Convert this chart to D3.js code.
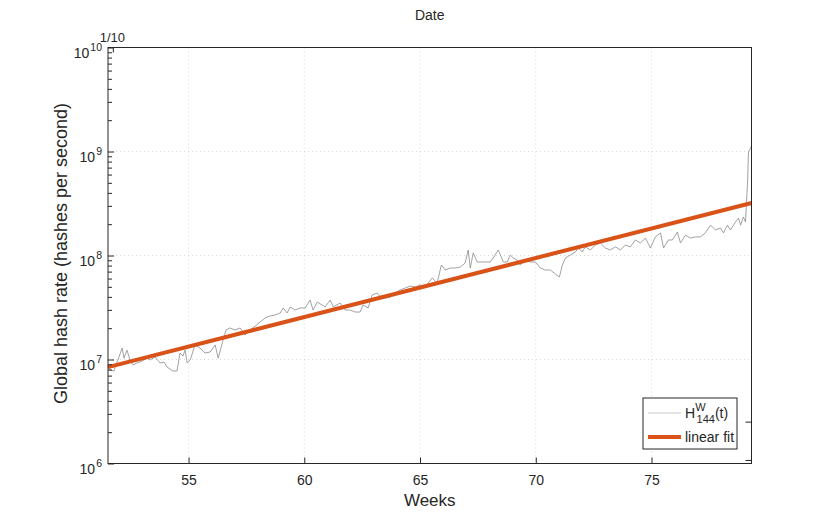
<!DOCTYPE html>
<html>
<head>
<meta charset="utf-8">
<script src="https://cdn.jsdelivr.net/npm/d3@7"></script>
<style>
  html, body { margin: 0; padding: 0; background: #fff; }
  svg { display: block; font-family: "Liberation Sans", Arial, Helvetica, sans-serif; }
</style>
</head>
<body>
<svg id="chart" width="830" height="519"></svg>
<script>
// ---------------- data ----------------
const weeks = [51.52,51.61,51.78,51.91,51.95,52.13,52.21,52.34,52.47,52.60,52.77,52.99,53.21,53.34,53.55,53.77,53.94,54.07,54.20,54.33,54.50,54.63,54.76,54.85,54.94,55.07,55.28,55.50,55.71,55.93,56.15,56.28,56.49,56.62,56.79,57.01,57.23,57.44,57.66,57.88,58.09,58.31,58.52,58.74,58.96,59.09,59.26,59.39,59.60,59.82,60.04,60.25,60.38,60.56,60.77,60.90,61.12,61.25,61.55,61.77,61.98,62.20,62.41,62.54,62.76,62.93,63.15,63.28,63.50,63.71,63.93,64.14,64.36,64.58,64.79,65.01,65.23,65.35,65.53,65.74,65.92,66.09,66.31,66.52,66.74,66.95,67.08,67.17,67.30,67.47,67.73,68.03,68.16,68.38,68.60,68.77,68.90,69.03,69.20,69.33,69.55,69.76,69.98,70.20,70.41,70.63,70.85,71.02,71.15,71.28,71.49,71.71,71.84,72.01,72.14,72.36,72.57,72.79,73.01,73.22,73.44,73.66,73.87,74.09,74.30,74.52,74.74,74.95,75.17,75.39,75.52,75.73,75.90,76.12,76.25,76.47,76.68,76.90,77.11,77.33,77.55,77.76,77.98,78.11,78.28,78.41,78.63,78.76,78.85,78.97,79.06,79.15,79.19,79.28,79.32];
const hashRate = [8.66e6,7.93e6,7.75e6,9.46e6,9.89e6,1.29e7,1.03e7,1.23e7,9.89e6,8.85e6,9.25e6,9.67e6,1.03e7,9.89e6,1.06e7,9.25e6,9.46e6,8.47e6,8.10e6,7.75e6,7.75e6,1.155e7,1.08e7,1.23e7,9.25e6,9.89e6,1.38e7,1.29e7,1.155e7,1.18e7,1.38e7,1.03e7,1.54e7,1.92e7,2.01e7,1.92e7,2.01e7,1.72e7,1.92e7,2.10e7,2.29e7,2.51e7,2.62e7,2.68e7,2.80e7,3.13e7,2.80e7,3.20e7,2.99e7,3.13e7,3.13e7,3.73e7,2.99e7,3.57e7,3.34e7,3.20e7,3.73e7,3.20e7,3.49e7,2.99e7,2.99e7,2.86e7,2.86e7,3.34e7,3.13e7,4.17e7,4.36e7,3.99e7,3.90e7,3.99e7,4.36e7,4.66e7,4.87e7,5.09e7,4.98e7,5.20e7,4.87e7,5.44e7,6.08e7,5.44e7,8.10e7,7.25e7,7.58e7,7.58e7,7.75e7,8.47e7,1.13e8,7.58e7,1.06e8,8.66e7,8.66e7,8.66e7,9.46e7,1.13e8,8.66e7,8.66e7,1.01e8,9.46e7,9.05e7,8.10e7,9.05e7,8.66e7,8.66e7,7.58e7,7.25e7,7.25e7,6.64e7,6.21e7,8.10e7,9.46e7,1.01e8,1.08e8,1.18e8,1.08e8,1.21e8,1.13e8,1.26e8,1.32e8,1.18e8,1.13e8,1.21e8,1.13e8,1.26e8,1.21e8,1.41e8,1.32e8,1.47e8,1.18e8,1.51e8,1.65e8,1.18e8,1.41e8,1.41e8,1.68e8,1.32e8,1.57e8,1.47e8,1.51e8,1.51e8,1.65e8,1.96e8,1.76e8,1.84e8,1.65e8,1.96e8,1.76e8,2.10e8,2.29e8,1.96e8,2.35e8,2.10e8,5.09e8,9.89e8,1.08e9,1.13e9];

// linear fit of log10(hash rate) against weeks
const fitIntercept = 4.0;
const fitSlope = 0.0568;

const xDomain = [51.52, 79.32];
const yDomain = [1e6, 1e10];
const xTicks = [55, 60, 65, 70, 75];
const yTicks = [1e6, 1e7, 1e8, 1e9, 1e10];
const dateTickWeek = 51.75;
const dateTickLabel = "1/10";
const rightAxisTicks = [2.5e6, 1.07e6];

// ---------------- layout ----------------
const M = { left: 108, right: 751.5, top: 47.5, bottom: 463.5 };
const svg = d3.select("#chart");
const x = d3.scaleLinear().domain(xDomain).range([M.left, M.right]);
const y = d3.scaleLog().domain(yDomain).range([M.bottom, M.top]);
const ink = "#262626";

// grid
const grid = svg.append("g");
grid.selectAll("line.gx").data(xTicks).join("line")
  .attr("x1", d => x(d)).attr("x2", d => x(d))
  .attr("y1", M.top).attr("y2", M.bottom)
  .attr("stroke", "#d9d9d9").attr("stroke-width", 1).attr("stroke-dasharray", "1,3");
grid.selectAll("line.gy").data(yTicks.slice(1, -1)).join("line")
  .attr("x1", M.left).attr("x2", M.right)
  .attr("y1", d => y(d)).attr("y2", d => y(d))
  .attr("stroke", "#d9d9d9").attr("stroke-width", 1).attr("stroke-dasharray", "1,3");

// data line
const pts = weeks.map((w, i) => [w, hashRate[i]]);
svg.append("path")
  .attr("d", d3.line().x(d => x(d[0])).y(d => y(d[1]))(pts))
  .attr("fill", "none").attr("stroke", "#8a8a8a").attr("stroke-width", 0.8);

// fit line
const fitPts = xDomain.map(w => [w, Math.pow(10, fitIntercept + fitSlope * w)]);
svg.append("path")
  .attr("d", d3.line().x(d => x(d[0])).y(d => y(d[1]))(fitPts))
  .attr("fill", "none").attr("stroke", "#D95319").attr("stroke-width", 4);

// axes (ticks inward)
const gx = svg.append("g").attr("transform", `translate(0,${M.bottom})`)
  .call(d3.axisBottom(x).tickValues(xTicks).tickSize(-6).tickPadding(12).tickFormat(d3.format("d")));
gx.select(".domain").remove();
gx.selectAll("line").attr("stroke", ink);
gx.selectAll("text").attr("fill", ink).attr("font-size", 14);

// y minor ticks
const minor = [];
for (let e = 6; e < 10; e++) for (let k = 2; k <= 9; k++) minor.push(k * Math.pow(10, e));
const gyMinor = svg.append("g").attr("transform", `translate(${M.left},0)`)
  .call(d3.axisLeft(y).tickValues(minor).tickSize(-4).tickFormat(""));
gyMinor.select(".domain").remove();
gyMinor.selectAll("line").attr("stroke", ink);

const gy = svg.append("g").attr("transform", `translate(${M.left},0)`)
  .call(d3.axisLeft(y).tickValues(yTicks).tickSize(-6).tickFormat(""));
gy.select(".domain").remove();
gy.selectAll("line").attr("stroke", ink);

// y tick labels with superscripts
const yl = svg.append("g");
yTicks.forEach(v => {
  const e = Math.round(Math.log10(v));
  const t = yl.append("text").attr("x", 102).attr("y", y(v) + 10)
    .attr("text-anchor", "end").attr("fill", ink).attr("font-size", 14);
  t.append("tspan").text("10");
  t.append("tspan").attr("dx", 1).attr("dy", -7).attr("font-size", 10.5).text(String(e));
});

// right axis ticks
svg.selectAll("line.rt").data(rightAxisTicks).join("line")
  .attr("x1", M.right - 6).attr("x2", M.right)
  .attr("y1", d => y(d)).attr("y2", d => y(d))
  .attr("stroke", ink);

// top date tick
svg.append("line").attr("x1", x(dateTickWeek)).attr("x2", x(dateTickWeek))
  .attr("y1", M.top).attr("y2", M.top + 5).attr("stroke", ink);
svg.append("text").attr("x", x(dateTickWeek) - 1).attr("y", 42)
  .attr("text-anchor", "middle").attr("fill", ink).attr("font-size", 13).text(dateTickLabel);

// box
svg.append("rect").attr("x", M.left).attr("y", M.top)
  .attr("width", M.right - M.left).attr("height", M.bottom - M.top)
  .attr("fill", "none").attr("stroke", ink).attr("stroke-width", 1);

// labels
svg.append("text").attr("x", (M.left + M.right) / 2).attr("y", 20)
  .attr("text-anchor", "middle").attr("fill", ink).attr("font-size", 14).text("Date");
svg.append("text").attr("x", (M.left + M.right) / 2).attr("y", 506)
  .attr("text-anchor", "middle").attr("fill", ink).attr("font-size", 17).text("Weeks");
svg.append("text").attr("transform", `translate(67,${(M.top + M.bottom) / 2 - 2}) rotate(-90)`)
  .attr("text-anchor", "middle").attr("fill", ink).attr("font-size", 18)
  .text("Global hash rate (hashes per second)");

// legend
const lg = svg.append("g").attr("transform", "translate(643,398)");
lg.append("rect").attr("width", 94).attr("height", 51)
  .attr("fill", "#fff").attr("stroke", ink).attr("stroke-width", 1);
lg.append("line").attr("x1", 5).attr("x2", 38).attr("y1", 15).attr("y2", 15)
  .attr("stroke", "#c8c8c8").attr("stroke-width", 1.2);
const t1 = lg.append("text").attr("x", 42).attr("y", 20).attr("fill", ink).attr("font-size", 14);
t1.append("tspan").text("H");
t1.append("tspan").attr("dy", -7).attr("font-size", 11).text("W");
t1.append("tspan").attr("dx", -9).attr("dy", 12).attr("font-size", 11).text("144");
t1.append("tspan").attr("dy", -5).text("(t)");
lg.append("line").attr("x1", 5).attr("x2", 38).attr("y1", 39).attr("y2", 39)
  .attr("stroke", "#D95319").attr("stroke-width", 4);
lg.append("text").attr("x", 42).attr("y", 44).attr("fill", ink).attr("font-size", 14).text("linear fit");
</script>
</body>
</html>
